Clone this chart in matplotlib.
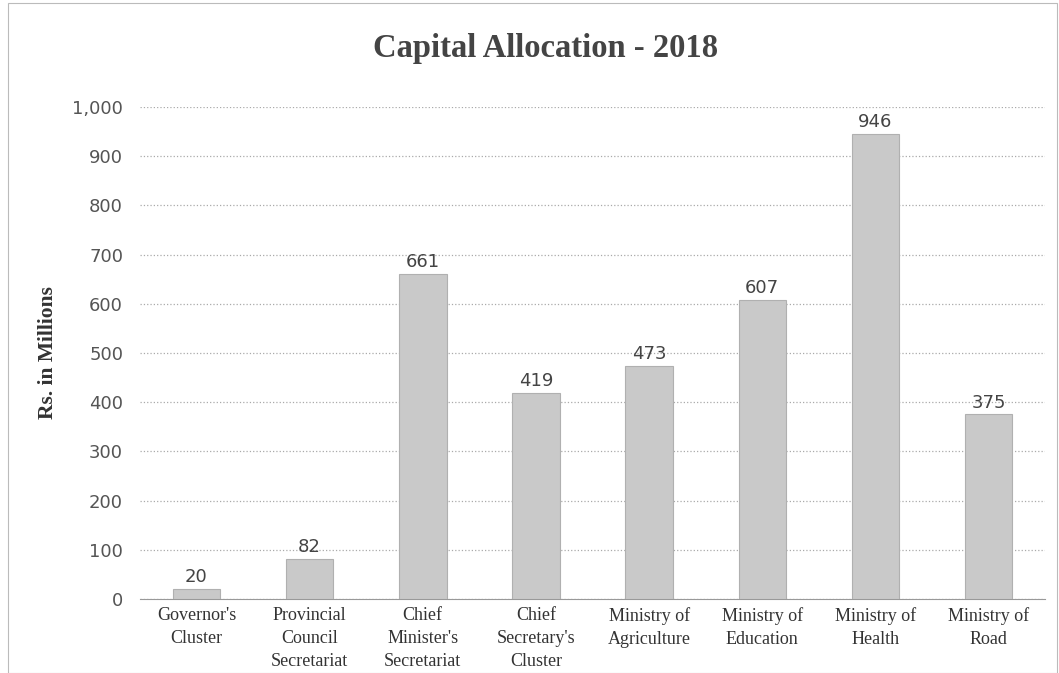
import matplotlib
matplotlib.use("Agg")
import matplotlib.pyplot as plt
from matplotlib.patches import Rectangle

categories = [
    "Governor's\nCluster",
    "Provincial\nCouncil\nSecretariat",
    "Chief\nMinister's\nSecretariat",
    "Chief\nSecretary's\nCluster",
    "Ministry of\nAgriculture",
    "Ministry of\nEducation",
    "Ministry of\nHealth",
    "Ministry of\nRoad",
]
values = [20, 82, 661, 419, 473, 607, 946, 375]
yticks = [0, 100, 200, 300, 400, 500, 600, 700, 800, 900, 1000]

fig = plt.figure(figsize=(10.59, 6.73), dpi=100)
ax = fig.add_axes([0.132, 0.110, 0.855, 0.731])

x = range(len(categories))
ax.bar(x, values, width=0.42, color="#c9c9c9", edgecolor="#b0b0b0", linewidth=0.8, zorder=3)

for xi, v in zip(x, values):
    ax.text(xi, v + 6, str(v), ha="center", va="bottom", fontsize=13,
            family="DejaVu Sans", color="#444444")

ax.set_ylim(0, 1000)
ax.set_xlim(-0.5, len(categories) - 0.5)
ax.set_yticks(yticks)
ax.set_yticklabels([f"{t:,}" for t in yticks], fontsize=13, color="#555555")
ax.set_xticks(list(x))
ax.set_xticklabels(categories, fontsize=13, family="Liberation Serif", color="#333333",
                   linespacing=1.45)
ax.tick_params(axis="y", length=0, pad=12)
ax.tick_params(axis="x", length=0, pad=6)

ax.yaxis.grid(True, linestyle=":", color="#aaaaaa", linewidth=0.9, zorder=0)
for side in ["top", "right", "left"]:
    ax.spines[side].set_visible(False)
ax.spines["bottom"].set_color("#999999")

ax.set_ylabel("Rs. in Millions", fontsize=15.5, family="Liberation Serif",
              fontweight="bold", color="#333333", labelpad=10)
fig.text(0.515, 0.928, "Capital Allocation - 2018", ha="center", va="center",
         fontsize=23.5, family="Liberation Serif", fontweight="bold", color="#444444")

fig.patches.append(Rectangle((0.008, 0.0), 0.99, 0.995, transform=fig.transFigure,
                             fill=False, edgecolor="#bbbbbb", linewidth=0.8))

fig.savefig("out.png", dpi=100)
